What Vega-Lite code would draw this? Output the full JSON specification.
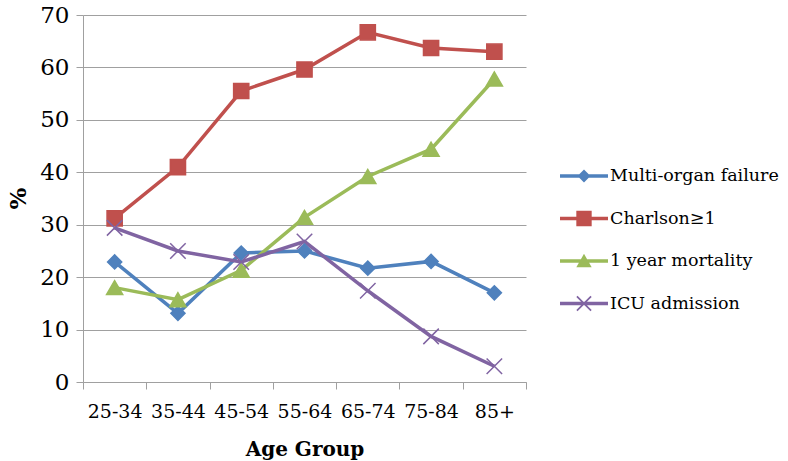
{
  "$schema": "https://vega.github.io/schema/vega-lite/v6.json",
  "width": 443,
  "height": 367,
  "autosize": "none",
  "padding": {"left": 83, "top": 15, "right": 262, "bottom": 79},
  "background": "white",
  "config": {
    "font": "DejaVu Serif",
    "view": {"stroke": null},
    "axis": {"labelFont": "DejaVu Serif", "titleFont": "DejaVu Serif"},
    "legend": {"labelFont": "DejaVu Serif", "titleFont": "DejaVu Serif"}
  },
  "data": {"values": [
    {"age": "25-34", "series": "Multi-organ failure", "value": 22.9},
    {"age": "35-44", "series": "Multi-organ failure", "value": 13.1},
    {"age": "45-54", "series": "Multi-organ failure", "value": 24.6},
    {"age": "55-64", "series": "Multi-organ failure", "value": 25.0},
    {"age": "65-74", "series": "Multi-organ failure", "value": 21.7},
    {"age": "75-84", "series": "Multi-organ failure", "value": 23.0},
    {"age": "85+", "series": "Multi-organ failure", "value": 17.0},
    {"age": "25-34", "series": "Charlson≥1", "value": 31.2},
    {"age": "35-44", "series": "Charlson≥1", "value": 41.0},
    {"age": "45-54", "series": "Charlson≥1", "value": 55.5},
    {"age": "55-64", "series": "Charlson≥1", "value": 59.6},
    {"age": "65-74", "series": "Charlson≥1", "value": 66.7},
    {"age": "75-84", "series": "Charlson≥1", "value": 63.7},
    {"age": "85+", "series": "Charlson≥1", "value": 63.0},
    {"age": "25-34", "series": "1 year mortality", "value": 18.0},
    {"age": "35-44", "series": "1 year mortality", "value": 15.7},
    {"age": "45-54", "series": "1 year mortality", "value": 21.3},
    {"age": "55-64", "series": "1 year mortality", "value": 31.4},
    {"age": "65-74", "series": "1 year mortality", "value": 39.2},
    {"age": "75-84", "series": "1 year mortality", "value": 44.4},
    {"age": "85+", "series": "1 year mortality", "value": 57.8},
    {"age": "25-34", "series": "ICU admission", "value": 29.4},
    {"age": "35-44", "series": "ICU admission", "value": 25.0},
    {"age": "45-54", "series": "ICU admission", "value": 22.9},
    {"age": "55-64", "series": "ICU admission", "value": 26.8},
    {"age": "65-74", "series": "ICU admission", "value": 17.4},
    {"age": "75-84", "series": "ICU admission", "value": 8.7},
    {"age": "85+", "series": "ICU admission", "value": 3.0}
  ]},
  "encoding": {
    "x": {
      "field": "age", "type": "ordinal",
      "sort": ["25-34", "35-44", "45-54", "55-64", "65-74", "75-84", "85+"],
      "scale": {"paddingInner": 0, "paddingOuter": 0},
      "axis": {
        "labelAngle": 0, "labelFontSize": 19, "labelColor": "#000", "labelPadding": 13,
        "tickSize": 7, "tickBand": "extent", "tickColor": "#A0A0A0", "domainColor": "#A0A0A0",
        "grid": false, "title": "Age Group", "titleFontSize": 20, "titleFontWeight": "bold",
        "titleColor": "#000", "titleBaseline": "alphabetic", "titleY": 73
      }
    },
    "y": {
      "field": "value", "type": "quantitative",
      "scale": {"domain": [0, 70], "nice": false},
      "axis": {
        "values": [0, 10, 20, 30, 40, 50, 60, 70],
        "labelFontSize": 23, "labelColor": "#000", "labelPadding": 7,
        "tickSize": 7, "tickColor": "#A0A0A0", "domainColor": "#A0A0A0",
        "gridColor": "#A0A0A0", "title": "%", "titleFontSize": 23, "titleFontWeight": "bold",
        "titleColor": "#000", "titleX": -58, "titleY": 183, "titleBaseline": "alphabetic", "titleAlign": "center", "titleAngle": -90
      }
    }
  },
  "layer": [
    {
      "mark": {"type": "line", "strokeWidth": 3.5},
      "encoding": {
        "color": {
          "field": "series", "type": "nominal",
          "scale": {"domain": ["Multi-organ failure", "Charlson≥1", "1 year mortality", "ICU admission"],
                    "range": ["#4F81BD", "#C0504D", "#9BBB59", "#8064A2"]},
          "legend": {
            "orient": "none", "legendX": 477, "legendY": 137, "title": null,
            "labelFontSize": 17.5, "labelColor": "#000", "labelOffset": 2, "padding": 0, "labelLimit": 0,
            "symbolSize": 2304, "rowPadding": 9.5, "symbolType": "square",
            "encode": {"symbols": {"update": {
              "shape": {"signal": "datum.value === 'Multi-organ failure' ? 'M-1,-0.075H1V0.075H-1Z M0,-0.27L0.27,0L0,0.27L-0.27,0Z' : datum.value === 'Charlson≥1' ? 'M-1,-0.075H1V0.075H-1Z M-0.32,-0.32H0.32V0.32H-0.32Z' : datum.value === '1 year mortality' ? 'M-1,-0.075H1V0.075H-1Z M0,-0.3L0.32,0.26H-0.32Z' : 'M-1,-0.075H1V0.075H-1Z M-0.32,-0.27L-0.27,-0.32L0,-0.05L0.27,-0.32L0.32,-0.27L0.05,0L0.32,0.27L0.27,0.32L0,0.05L-0.27,0.32L-0.32,0.27L-0.05,0Z'"},
              "fill": {"signal": "scale('color', datum.value)"},
              "stroke": {"value": "transparent"},
              "strokeWidth": {"value": 0},
              "opacity": {"value": 1}
            }}}
          }
        }
      }
    },
    {
      "transform": [{"filter": "datum.series === 'Multi-organ failure'"}],
      "mark": {"type": "point", "shape": "diamond", "filled": true, "opacity": 1, "fill": "#4F81BD", "stroke": "#4F81BD", "strokeWidth": 1.5, "size": 200}
    },
    {
      "transform": [{"filter": "datum.series === 'Charlson≥1'"}],
      "mark": {"type": "point", "shape": "square", "filled": true, "opacity": 1, "fill": "#C0504D", "stroke": "#C0504D", "strokeWidth": 1.5, "size": 230}
    },
    {
      "transform": [{"filter": "datum.series === '1 year mortality'"}],
      "mark": {"type": "point", "shape": "triangle-up", "filled": true, "opacity": 1, "fill": "#9BBB59", "stroke": "#9BBB59", "strokeWidth": 1.5, "size": 260}
    },
    {
      "transform": [{"filter": "datum.series === 'ICU admission'"}],
      "mark": {"type": "point", "shape": "M-1,-1L1,1M-1,1L1,-1", "filled": false, "opacity": 1, "stroke": "#8064A2", "strokeWidth": 1.5, "size": 240}
    }
  ]
}
